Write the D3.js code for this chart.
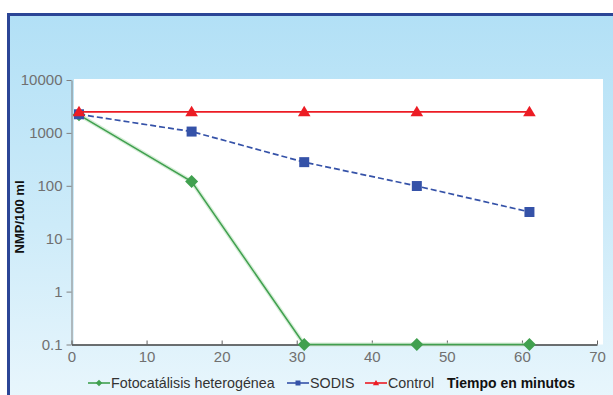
<!DOCTYPE html>
<html><head><meta charset="utf-8">
<script src="https://cdn.jsdelivr.net/npm/d3@7/dist/d3.min.js"></script>
<style>body{margin:0;background:#fff}svg{display:block}</style>
</head><body>
<script>
// ---- data ----
const times = [1, 16, 31, 46, 61];
const fotocatalisis = [2200, 120, 0.1, 0.1, 0.1];
const sodis = [2250, 1060, 280, 99, 32];
const control = [2500, 2500, 2500, 2500, 2500];
const seriesNames = ["Fotocatálisis heterogénea", "SODIS", "Control"];
const xTicks = [0, 10, 20, 30, 40, 50, 60, 70];
const yTicks = [0.1, 1, 10, 100, 1000, 10000];
const yTickLabels = ["0.1", "1", "10", "100", "1000", "10000"];
const xTitle = "Tiempo en minutos";
const yTitle = "NMP/100 ml";

const W = 613, H = 395;
const svg = d3.select("body").append("svg").attr("width", W).attr("height", H);
const defs = svg.append("defs");
const g = defs.append("linearGradient").attr("id", "bg").attr("x1", 0).attr("y1", 0).attr("x2", 0).attr("y2", 1);
g.append("stop").attr("offset", "0%").attr("stop-color", "#b2e0f6");
g.append("stop").attr("offset", "50%").attr("stop-color", "#cdebf9");
g.append("stop").attr("offset", "100%").attr("stop-color", "#eef8fd");

// frame
svg.append("rect").attr("x", 8.5).attr("y", 14.5).attr("width", 640).attr("height", 420)
  .attr("fill", "url(#bg)").attr("stroke", "#2b4596").attr("stroke-width", 3);

const x = d3.scaleLinear().domain([0, 70]).range([71.5, 597]);
const y = d3.scaleLog().domain([0.1, 10000]).range([344.5, 80]);

// plot area
svg.append("rect").attr("x", 74).attr("y", 79).attr("width", 529).attr("height", 265.5).attr("fill", "#fff");

// axes
const font = "Liberation Sans, Arial, sans-serif";
const yAxis = svg.append("g").attr("transform", "translate(71.5,0)")
  .call(d3.axisLeft(y).tickValues(yTicks).tickFormat((d, i) => yTickLabels[i]).tickSizeInner(5).tickSizeOuter(0).tickPadding(4));
yAxis.selectAll("path,line").attr("stroke", "#808080");
yAxis.selectAll("text").attr("font-family", font).attr("font-size", 15).attr("fill", "#707070");

const xAxis = svg.append("g").attr("transform", "translate(0,344.5)")
  .call(d3.axisBottom(x).tickValues(xTicks).tickSizeInner(-4).tickSizeOuter(0).tickPadding(7));
xAxis.select("path").attr("stroke", "#404040").attr("stroke-width", 1.3);
xAxis.selectAll("line").attr("stroke", "#606060");
xAxis.selectAll("text").attr("font-family", font).attr("font-size", 15).attr("fill", "#707070");

// markers
function diamond(s) { return `M0,${-s}L${s},0L0,${s}L${-s},0Z`; }
function square(s) { return `M${-s},${-s}H${s}V${s}H${-s}Z`; }
function triangle(s) { return `M0,${-s}L${s * 1.05},${s * 0.75}L${-s * 1.05},${s * 0.75}Z`; }

const series = [
  { name: seriesNames[0], vals: fotocatalisis, color: "#40a04f", dash: null, mk: diamond, ms: 6.5, lw: 1.5, halo: true },
  { name: seriesNames[1], vals: sodis, color: "#3552a8", dash: "6,3", mk: square, ms: 5, lw: 1.7, halo: false },
  { name: seriesNames[2], vals: control, color: "#ec1c24", dash: null, mk: triangle, ms: 6, lw: 1.8, halo: false }
];

const line = d3.line().x((d, i) => x(times[i])).y(d => y(d));
series.forEach(s => {
  if (s.halo) {
    svg.append("path").attr("d", line(s.vals)).attr("fill", "none")
      .attr("stroke", "#c3e5c5").attr("stroke-width", 4).attr("opacity", 0.7);
  }
  svg.append("path").attr("d", line(s.vals)).attr("fill", "none")
    .attr("stroke", s.color).attr("stroke-width", s.lw).attr("stroke-dasharray", s.dash);
  svg.selectAll(null).data(s.vals).enter().append("path")
    .attr("transform", (d, i) => `translate(${x(times[i])},${y(d)})`)
    .attr("d", s.mk(s.ms)).attr("fill", s.color);
});

// legend
const legY = 383;
const legX = [88, 287, 365];
series.forEach((s, i) => {
  const lg = svg.append("g").attr("transform", `translate(${legX[i]},${legY})`);
  lg.append("line").attr("x1", 0).attr("x2", 22).attr("y1", 0).attr("y2", 0)
    .attr("stroke", s.color).attr("stroke-width", 1.6);
  lg.append("path").attr("transform", "translate(11,0)").attr("d", s.mk(s.ms * 0.5)).attr("fill", s.color);
  lg.append("text").attr("x", 23).attr("y", 0).attr("dy", "0.35em")
    .attr("font-family", font).attr("font-size", 14.3).attr("fill", "#333").text(s.name);
});
svg.append("text").attr("x", 447).attr("y", legY).attr("dy", "0.35em")
  .attr("font-family", font).attr("font-size", 14).attr("font-weight", "bold").attr("fill", "#111").text(xTitle);

svg.append("text").attr("transform", "translate(24,217) rotate(-90)").attr("text-anchor", "middle")
  .attr("font-family", font).attr("font-size", 13).attr("font-weight", "bold").attr("fill", "#111").text(yTitle);
</script>
</body></html>
